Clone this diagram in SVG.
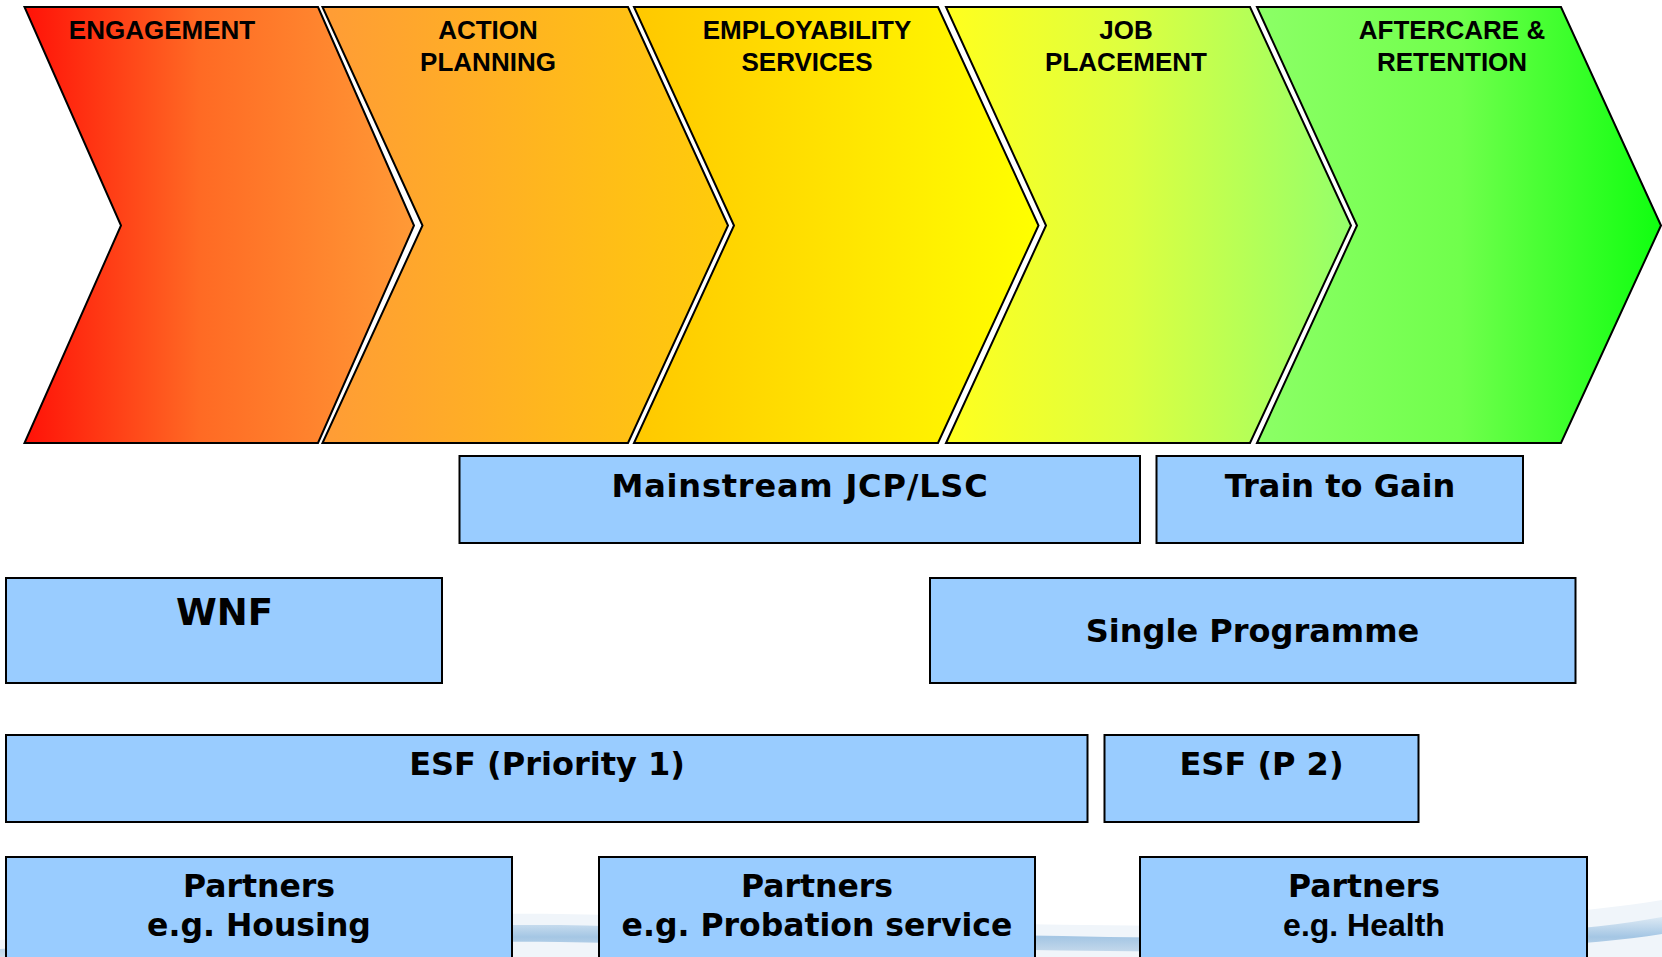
<svg xmlns="http://www.w3.org/2000/svg" width="1662" height="957" viewBox="0 0 1662 957">
<style>
.chev{stroke:#000;stroke-width:2;stroke-linejoin:miter}
.ct{font-family:"Liberation Sans",Arial,sans-serif;font-weight:bold;font-size:26px;fill:#000;text-anchor:middle}
.box{fill:#99ccff;stroke:#000;stroke-width:2}
.bt{font-family:Verdana,"DejaVu Sans",sans-serif;font-weight:bold;font-size:32px;fill:#000;text-anchor:middle}
.bta{font-family:"Liberation Sans",Arial,sans-serif;font-weight:bold;font-size:32px;fill:#000;text-anchor:middle}
</style>
<defs>
<linearGradient id="g1" x1="0" y1="0" x2="1" y2="0"><stop offset="0" stop-color="#ff1208"/><stop offset="0.45" stop-color="#ff6a24"/><stop offset="1" stop-color="#ff9a36"/></linearGradient>
<linearGradient id="g2" x1="0" y1="0" x2="1" y2="0"><stop offset="0" stop-color="#ff9c36"/><stop offset="1" stop-color="#ffcc0a"/></linearGradient>
<linearGradient id="g3" x1="0" y1="0" x2="1" y2="0"><stop offset="0" stop-color="#ffc800"/><stop offset="1" stop-color="#ffff00"/></linearGradient>
<linearGradient id="g4" x1="0" y1="0" x2="1" y2="0"><stop offset="0" stop-color="#ffff1e"/><stop offset="0.45" stop-color="#ddff40"/><stop offset="1" stop-color="#94ff6a"/></linearGradient>
<linearGradient id="g5" x1="0" y1="0" x2="1" y2="0"><stop offset="0" stop-color="#8cff66"/><stop offset="0.5" stop-color="#70ff4c"/><stop offset="1" stop-color="#10ff10"/></linearGradient>
<linearGradient id="sw" x1="0" y1="0" x2="0" y2="1"><stop offset="0" stop-color="#dce9f4"/><stop offset="0.5" stop-color="#a4c6e4"/><stop offset="1" stop-color="#cfdfee"/></linearGradient>
</defs>
<rect width="1662" height="957" fill="#ffffff"/>
<g id="swoosh">
<path d="M0,940 C200,925 400,912 560,914 C800,918 1000,926 1200,926 C1400,926 1550,918 1662,900 L1662,957 L0,957 Z" fill="#f0f5fa"/>
<path d="M0,949 C200,936 400,924 560,925 C800,930 1000,936 1200,938 C1400,940 1560,936 1662,917 L1662,934 C1560,950 1400,954 1200,952 C1000,950 800,946 560,942 C400,940 200,950 0,957 Z" fill="url(#sw)"/>
</g>
<g id="stage-engagement">
<polygon class="chev" fill="url(#g1)" points="24.5,7 318,7 414,225.5 318,443 24.5,443 121,225.5"/>
<text class="ct" x="162" y="39">ENGAGEMENT</text>
</g>
<g id="stage-action-planning">
<polygon class="chev" fill="url(#g2)" points="322.5,7 628,7 728,225.5 628,443 322.5,443 422.5,225.5"/>
<text class="ct" x="488" y="39">ACTION</text>
<text class="ct" x="488" y="71">PLANNING</text>
</g>
<g id="stage-employability">
<polygon class="chev" fill="url(#g3)" points="634,7 938,7 1038.5,225.5 938,443 634,443 734,225.5"/>
<text class="ct" x="807" y="39">EMPLOYABILITY</text>
<text class="ct" x="807" y="71">SERVICES</text>
</g>
<g id="stage-job-placement">
<polygon class="chev" fill="url(#g4)" points="946,7 1250,7 1351,225.5 1250,443 946,443 1046,225.5"/>
<text class="ct" x="1126" y="39">JOB</text>
<text class="ct" x="1126" y="71">PLACEMENT</text>
</g>
<g id="stage-aftercare">
<polygon class="chev" fill="url(#g5)" points="1257,7 1561,7 1661,225.5 1561,443 1257,443 1357,225.5"/>
<text class="ct" x="1452" y="39">AFTERCARE &amp;</text>
<text class="ct" x="1452" y="71">RETENTION</text>
</g>
<g id="connectors"></g>
<g id="mainstream">
<rect class="box" x="459.5" y="456" width="680.5" height="87"/>
<text class="bt" x="800" y="497" style="letter-spacing:0.8px">Mainstream JCP/LSC</text>
</g>
<g id="train-to-gain">
<rect class="box" x="1156.5" y="456" width="366.5" height="87"/>
<text class="bt" x="1340" y="497">Train to Gain</text>
</g>
<g id="wnf">
<rect class="box" x="6" y="578" width="436" height="105"/>
<text class="bt" x="224.5" y="625" style="font-size:37px">WNF</text>
</g>
<g id="single-programme">
<rect class="box" x="930" y="578" width="645.5" height="105"/>
<text class="bt" x="1252.5" y="642">Single Programme</text>
</g>
<g id="esf-p1">
<rect class="box" x="6" y="735" width="1081.5" height="87"/>
<text class="bt" x="547" y="775">ESF (Priority 1)</text>
</g>
<g id="esf-p2">
<rect class="box" x="1104.5" y="735" width="314" height="87"/>
<text class="bt" x="1261.5" y="775">ESF (P 2)</text>
</g>
<g id="partners-housing">
<rect class="box" x="6" y="857" width="506" height="120"/>
<text class="bt" x="259" y="897" style="font-size:31.5px">Partners</text>
<text class="bt" x="259" y="936" style="font-size:31.5px">e.g. Housing</text>
</g>
<g id="partners-probation">
<rect class="box" x="599" y="857" width="436" height="120"/>
<text class="bt" x="817" y="897" style="font-size:31.5px">Partners</text>
<text class="bt" x="817" y="936" style="font-size:31.5px">e.g. Probation service</text>
</g>
<g id="partners-health">
<rect class="box" x="1140" y="857" width="447" height="120"/>
<text class="bt" x="1364" y="897" style="font-size:31.5px">Partners</text>
<text class="bta" x="1364" y="936">e.g. Health</text>
</g>
</svg>
